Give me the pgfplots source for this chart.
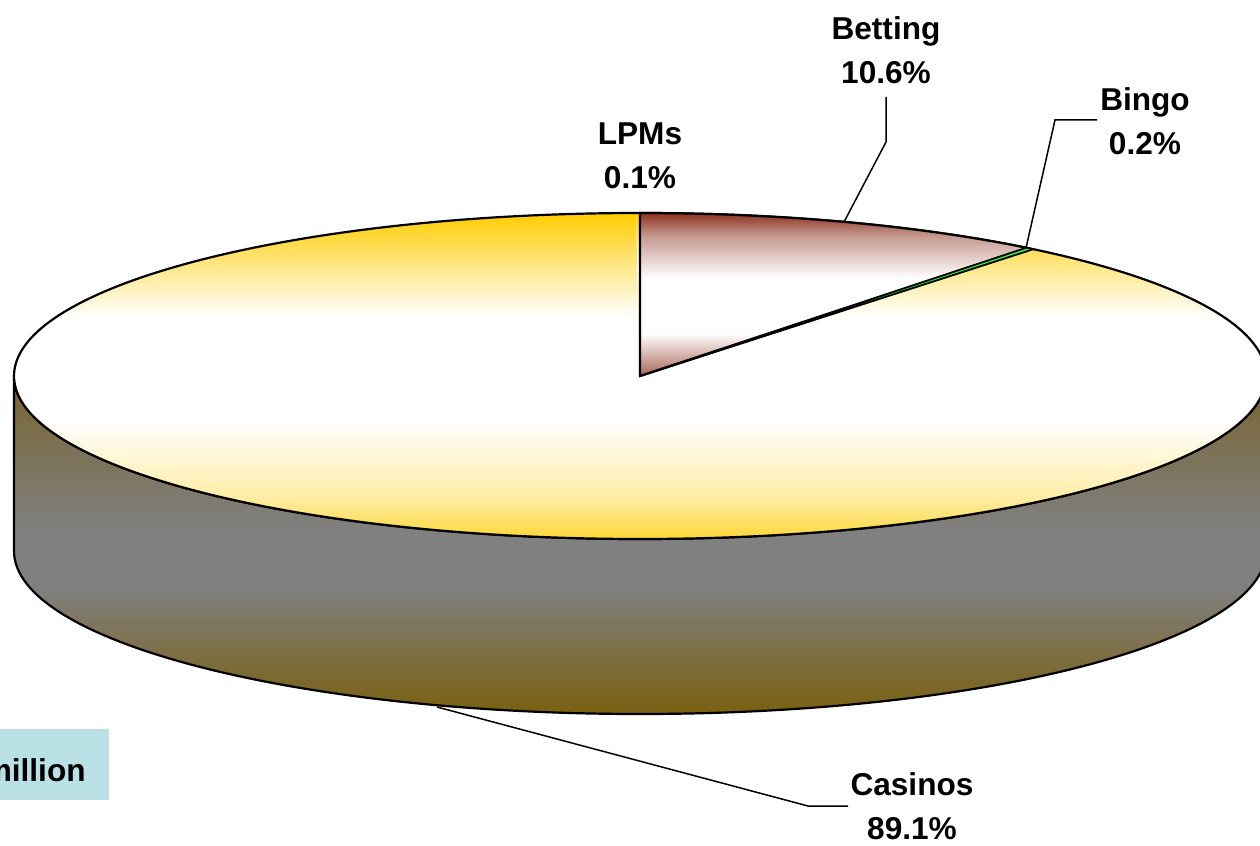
\documentclass[border=0pt]{standalone}
\usepackage{pgfplots}
\pgfplotsset{compat=1.18}
\usepackage{pgfplotstable}
\usepackage{fontspec}
\setmainfont{Liberation Sans}

\definecolor{cgold}{RGB}{255,204,0}
\definecolor{cbet}{RGB}{140,50,30}
\definecolor{cbingo}{RGB}{51,255,51}
\definecolor{sidetop}{RGB}{120,100,45}
\definecolor{sidemid}{RGB}{128,128,128}
\definecolor{sidebot}{RGB}{122,96,16}
\definecolor{boxcol}{RGB}{185,224,228}

\pgfdeclareverticalshading{casinotop}{100bp}{color(0bp)=(cgold); color(25bp)=(cgold); color(34bp)=(cgold!35!white); color(45bp)=(white); color(60bp)=(white); color(67bp)=(cgold!45!white); color(75bp)=(cgold); color(100bp)=(cgold)}
\pgfdeclareverticalshading{bettop}{100bp}{color(0bp)=(cbet); color(25bp)=(cbet!75!white); color(38bp)=(white); color(55bp)=(white); color(68bp)=(cbet!50!white); color(75bp)=(cbet); color(100bp)=(cbet)}
\pgfdeclareverticalshading{sideshade}{100bp}{color(0bp)=(sidebot); color(25bp)=(sidebot); color(44bp)=(sidemid); color(52bp)=(sidemid); color(75bp)=(sidetop); color(100bp)=(sidetop)}

\pgfplotstableread{
label value
Betting 10.6
Bingo 0.2
Casinos 89.1
LPMs 0.1
}\piedata
\pgfplotstablegetelem{0}{value}\of\piedata\let\vBet\pgfplotsretval
\pgfplotstablegetelem{1}{value}\of\piedata\let\vBin\pgfplotsretval
\pgfplotstablegetelem{2}{value}\of\piedata\let\vCas\pgfplotsretval
\pgfplotstablegetelem{3}{value}\of\piedata\let\vLpm\pgfplotsretval
\pgfmathsetmacro\aZ{90}
\pgfmathsetmacro\aA{\aZ-3.6*\vBet}
\pgfmathsetmacro\aB{\aA-3.6*\vBin}
\pgfmathsetmacro\aC{\aB-3.6*\vCas}
\pgfmathsetmacro\aD{\aC-3.6*\vLpm}

\begin{document}
\begin{tikzpicture}
\begin{axis}[scale only axis, width=630pt, height=423pt,
  xmin=0, xmax=1260, ymin=0, ymax=846, y dir=reverse,
  axis lines=none, xtick=\empty, ytick=\empty, clip=false]
\coordinate (BL) at (axis cs:0,846);
\coordinate (TR) at (axis cs:1260,0);
% side wall (front, all Casinos)
\path[shade, shading=sideshade, draw=black, line width=1.1pt]
  (axis cs:14,376) -- (axis cs:14,551)
  arc[start angle=180, end angle=360, x radius=313pt, y radius=81.5pt]
  -- (axis cs:1266,376)
  arc[start angle=0, end angle=-180, x radius=313pt, y radius=81.5pt] -- cycle;
% Casinos top
\path[shade, shading=casinotop]
  (axis cs:640,376) -- ++(\aB:313pt and 81.5pt)
  arc[start angle=\aB, end angle=\aC, x radius=313pt, y radius=81.5pt] -- cycle;
% LPMs top
\path[shade, shading=casinotop]
  (axis cs:640,376) -- ++(\aC:313pt and 81.5pt)
  arc[start angle=\aC, end angle=\aD, x radius=313pt, y radius=81.5pt] -- cycle;
\draw[line width=1.1pt] (axis cs:640,376) -- ++(\aB:313pt and 81.5pt);
\draw[line width=1.1pt] (axis cs:640,376) ellipse[x radius=313pt, y radius=81.5pt];
% Betting top
\path[shade, shading=bettop, draw=black, line width=1.1pt]
  (axis cs:640,376) -- ++(\aZ:313pt and 81.5pt)
  arc[start angle=\aZ, end angle=\aA, x radius=313pt, y radius=81.5pt] -- cycle;
% Bingo top
\path[fill=cbingo, draw=black, line width=0.7pt]
  (axis cs:640,376) -- ++(\aA:313pt and 81.5pt)
  arc[start angle=\aA, end angle=\aB, x radius=313pt, y radius=81.5pt] -- cycle;
% leader lines
\draw[line width=0.75pt] (axis cs:886,97) -- (axis cs:886,142) -- (axis cs:844,222);
\draw[line width=0.75pt] (axis cs:1097,120) -- (axis cs:1055,120) -- (axis cs:1026,248);
\draw[line width=0.75pt] (axis cs:437,707) -- (axis cs:808,806) -- (axis cs:848,806);
% labels
\tikzset{lab/.style={font=\fontsize{15.8}{22}\selectfont\bfseries, align=center, inner sep=0pt}}
\node[lab] at (axis cs:886,50) {Betting\\10.6\%};
\node[lab] at (axis cs:1145,121) {Bingo\\0.2\%};
\node[lab] at (axis cs:640,156) {LPMs\\0.1\%};
\node[lab] at (axis cs:912,806) {Casinos\\89.1\%};
% million box
\fill[boxcol] (axis cs:-150,729) rectangle (axis cs:109,800);
\node[font=\fontsize{15.8}{22}\selectfont\bfseries, anchor=base east, inner sep=0pt] at (axis cs:86,781) {million};
\end{axis}
\pgfresetboundingbox
\path[use as bounding box] (BL) rectangle (TR);
\end{tikzpicture}
\end{document}
